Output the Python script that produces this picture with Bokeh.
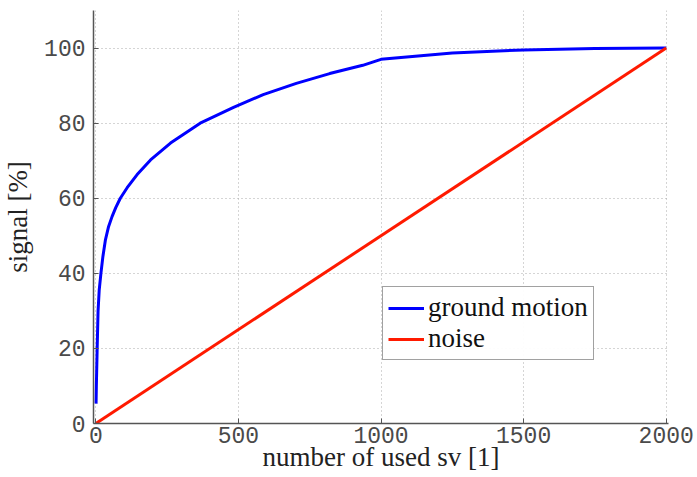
from bokeh.plotting import figure
from bokeh.models import Range1d, Legend, LegendItem, FixedTicker
from bokeh.embed import file_html
from bokeh.resources import INLINE

# data
gm_x = [1, 2, 5, 8, 12, 18, 25, 34, 45, 57, 70, 86, 110, 145, 192, 262, 366, 483,
        587, 703, 820, 936, 1000, 1250, 1500, 1750, 2000]
gm_y = [5.3, 10, 20.5, 30, 35.5, 40, 44.5, 49, 52.5, 55.1, 57.5, 60, 62.8, 66.3, 70.2, 74.7, 80, 84.2,
        87.6, 90.6, 93.2, 95.4, 97, 98.7, 99.5, 99.85, 100]
noise_x = [0, 2000]
noise_y = [0, 100]
x_ticks = [0, 500, 1000, 1500, 2000]
y_ticks = [0, 20, 40, 60, 80, 100]

p = figure(width=697, height=477, output_backend="svg", toolbar_location=None,
           x_range=Range1d(-8, 2008), y_range=Range1d(0, 110),
           min_border_left=93, min_border_right=29, min_border_top=10, min_border_bottom=54)
p.outline_line_color = None
p.background_fill_color = "white"

r1 = p.line(gm_x, gm_y, line_color="#0000ff", line_width=3, line_join="round")
r2 = p.line(noise_x, noise_y, line_color="#ff1a00", line_width=3)

for ax in (p.xaxis[0], p.yaxis[0]):
    ax.axis_line_color = "#555555"
    ax.axis_line_width = 1.5
    ax.major_tick_in = 5
    ax.major_tick_out = 0
    ax.major_tick_line_color = "#555555"
    ax.minor_tick_line_color = None
    ax.major_label_text_font = "Liberation Mono"
    ax.major_label_text_font_size = "23px"
    ax.major_label_text_color = "#4a4a4a"
    ax.axis_label_text_font = "Liberation Serif"
    ax.axis_label_text_font_size = "27px"
    ax.axis_label_text_font_style = "normal"
    ax.axis_label_text_color = "#222222"

p.xaxis.ticker = FixedTicker(ticks=x_ticks)
p.yaxis.ticker = FixedTicker(ticks=y_ticks)
p.xaxis.axis_label = "number of used sv [1]"
p.yaxis.axis_label = "signal [%]"
p.xaxis.major_label_standoff = 3
p.xaxis.axis_label_standoff = -4
p.yaxis.major_label_standoff = 8
p.yaxis.axis_label_standoff = 8

for g in (p.xgrid[0], p.ygrid[0]):
    g.grid_line_color = "#aaaaaa"
    g.grid_line_dash = "1 3"
    g.grid_line_width = 1

legend = Legend(items=[LegendItem(label="ground motion", renderers=[r1]),
                       LegendItem(label="noise", renderers=[r2])],
                location=(289, 63))
legend.label_text_font = "Liberation Serif"
legend.label_text_font_size = "27px"
legend.label_text_color = "#111111"
legend.glyph_width = 36
legend.label_standoff = 4
legend.padding = 5
legend.spacing = 0
legend.margin = 0
legend.border_line_color = "#444444"
legend.border_line_width = 1
p.add_layout(legend)

open("out.html", "w").write(file_html(p, INLINE))
